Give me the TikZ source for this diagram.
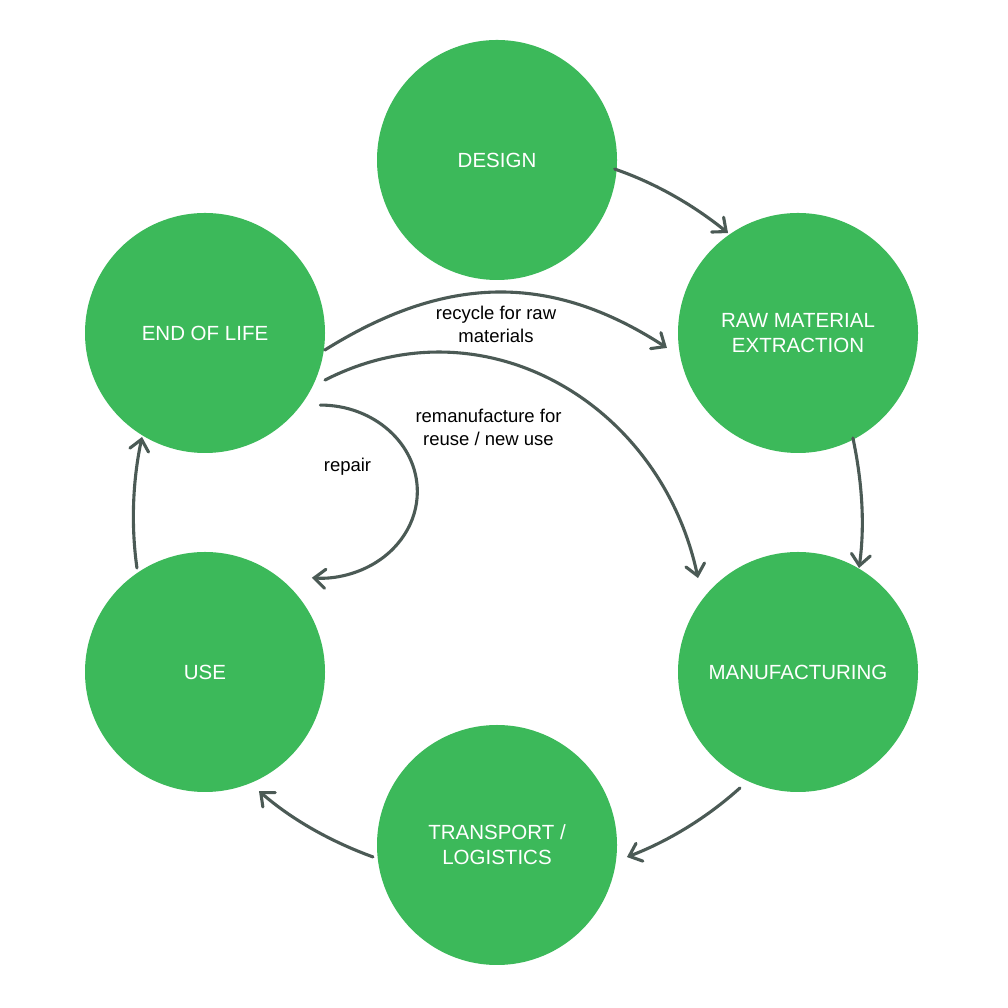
\documentclass[tikz,border=0pt]{standalone}
\usepackage{fontspec}
\setmainfont{Liberation Sans}
\usetikzlibrary{arrows.meta,calc}
\definecolor{stagegreen}{RGB}{60,185,90}
\definecolor{arrowgrey}{RGB}{75,90,85}
\begin{document}
\begin{tikzpicture}[x=1pt,y=1pt,
  stage/.style={circle, fill=stagegreen, minimum size=240pt, inner sep=0pt, text=white,
    font=\fontsize{20.5}{25}\selectfont, align=center},
  flow/.style={draw=arrowgrey, line width=3.1pt, line cap=round,
    -{Straight Barb[length=11pt,width=19pt,line cap=round]}},
  lbl/.style={font=\fontsize{18.5}{23}\selectfont, align=center, text=black}
]
\fill[white] (0,0) rectangle (1008,1008);
\useasboundingbox (0,0) rectangle (1008,1008);

\node[stage] (design) at (497,848) {DESIGN};
\node[stage] (raw)    at (798,675) {RAW MATERIAL\\EXTRACTION};
\node[stage] (manu)   at (798,336) {MANUFACTURING};
\node[stage] (trans)  at (497,163) {TRANSPORT /\\LOGISTICS};
\node[stage] (use)    at (205,336) {USE};
\node[stage] (eol)    at (205,675) {END OF LIFE};

% outer cycle
\draw[flow] ($(design)+(-4.4:118)$) to[out=-19,in=141,looseness=0.86] ($(raw)+(125:122)$);
\draw[flow] ($(raw)+(-62.4:118.5)$) to[out=-78,in=82,looseness=0.86] ($(manu)+(59.6:120.6)$);
\draw[flow] ($(manu)+(-116.6:129.7)$) to[out=-138,in=21,looseness=0.86] ($(trans)+(-5.3:130.5)$);
\draw[flow] ($(trans)+(185.5:124.6)$) to[out=160,in=-41,looseness=0.86] ($(use)+(-65.6:130.7)$);
\draw[flow] ($(use)+(123.2:124.3)$) to[out=98,in=-102,looseness=0.86] ($(eol)+(238.8:121.6)$);

% inner loops
\draw[flow] ($(eol)+(-8.1:121)$) to[out=32,in=147,looseness=1.05] ($(raw)+(186.5:131.9)$);
\draw[flow] ($(eol)+(-21.4:128.9)$) to[out=27,in=102,looseness=1.08] ($(manu)+(136.8:137.2)$);
\draw[flow] ($(eol)+(-32:136)$) arc[start angle=90, end angle=-95, x radius=97, y radius=86.5];

\node[lbl] (recyclelbl) at (496,684) {recycle for raw\\materials};
\node[lbl] (remanlbl)   at (488.5,581) {remanufacture for\\reuse / new use};
\node[lbl] (repairlbl)  at (347.5,541) {repair};
\end{tikzpicture}
\end{document}
